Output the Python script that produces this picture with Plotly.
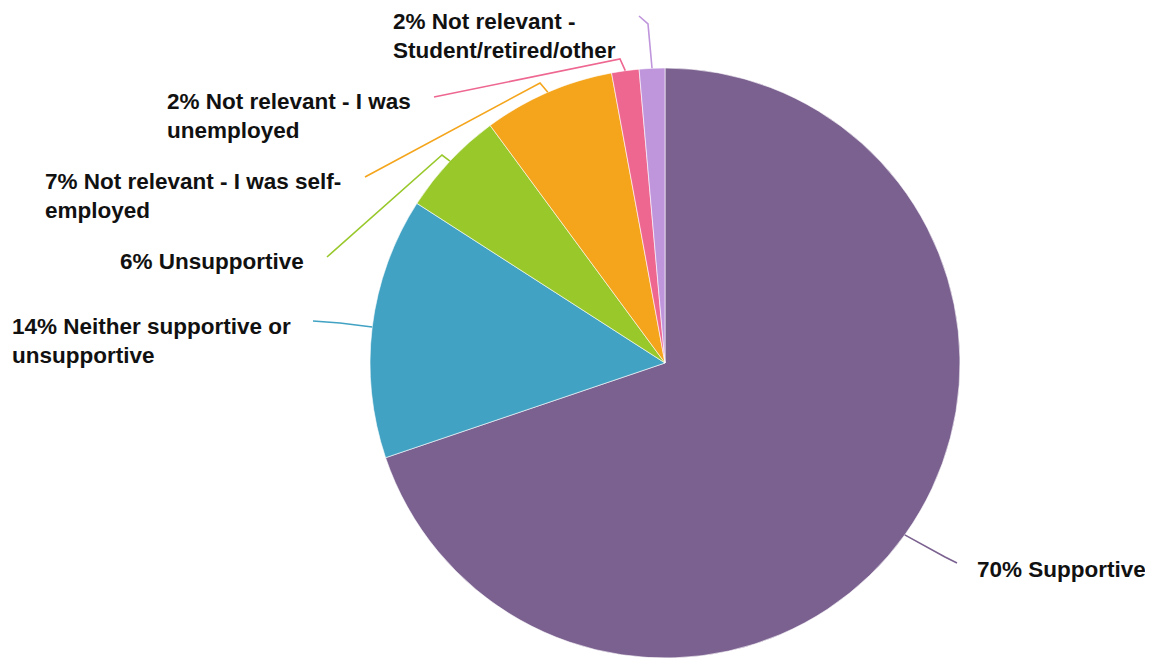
import math
import plotly.graph_objects as go

# ---- data ----
categories = [
    "Supportive",
    "Neither supportive or unsupportive",
    "Unsupportive",
    "Not relevant - I was self-employed",
    "Not relevant - I was unemployed",
    "Not relevant - Student/retired/other",
]
values = [69.8, 14.3, 5.8, 7.2, 1.5, 1.4]
label_texts = [
    "70% Supportive",
    "14% Neither supportive or<br>unsupportive",
    "6% Unsupportive",
    "7% Not relevant - I was self-<br>employed",
    "2% Not relevant - I was<br>unemployed",
    "2% Not relevant -<br>Student/retired/other",
]
colors = ["#7B6190", "#41A2C3", "#98C82A", "#F4A51C", "#EE6791", "#BF95DC"]

# ---- layout constants (screen pixels) ----
W, H = 1153, 660
OFF = 8  # page body margin
CX, CY, R = 665, 363, 295
# label block anchors (left x, middle y)
label_pos = [(975, 569), (10, 341), (118, 262), (43, 196), (165, 116), (391, 36)]
# leader line: elbow point and end point
leader_pts = [
    [(945, 557), (957, 563)],
    [(340, 323), (313, 321)],
    [(442, 155), (327, 257)],
    [(540, 83), (365, 177)],
    [(620, 59), (434, 97)],
    [(648, 24), (639, 16)],
]


def to_paper(x, y):
    return (x - OFF) / W, 1 - (y - OFF) / H


fig = go.Figure(
    go.Pie(
        labels=categories,
        values=values,
        sort=False,
        direction="clockwise",
        rotation=0,
        marker=dict(colors=colors, line=dict(color="white", width=0.6)),
        textinfo="none",
        hoverinfo="label+percent",
        domain=dict(
            x=[(CX - OFF - R) / W, (CX - OFF + R) / W],
            y=[1 - (CY - OFF + R) / H, 1 - (CY - OFF - R) / H],
        ),
        showlegend=False,
    )
)

total = sum(values)
cum = 0.0
shapes = []
annotations = []
for i, v in enumerate(values):
    mid = (cum + v / 2) / total * 2 * math.pi
    cum += v
    sx = CX + R * math.sin(mid)
    sy = CY - R * math.cos(mid)
    (ex1, ey1), (ex2, ey2) = leader_pts[i]
    p0 = to_paper(sx, sy)
    p1 = to_paper(ex1, ey1)
    p2 = to_paper(ex2, ey2)
    path = f"M {p0[0]},{p0[1]} L {p1[0]},{p1[1]} L {p2[0]},{p2[1]}"
    shapes.append(
        dict(type="path", xref="paper", yref="paper", path=path,
             line=dict(color=colors[i], width=1.6))
    )
    lx, ly = to_paper(*label_pos[i])
    annotations.append(
        dict(x=lx, y=ly, xref="paper", yref="paper", xanchor="left", yanchor="middle",
             align="left", showarrow=False, text=f"<b>{label_texts[i]}</b>",
             font=dict(family="Liberation Sans, Arial, sans-serif", size=22.5, color="#111111"))
    )

fig.update_layout(
    width=W,
    height=H,
    margin=dict(l=0, r=0, t=0, b=0),
    paper_bgcolor="white",
    plot_bgcolor="white",
    shapes=shapes,
    annotations=annotations,
)

fig.write_html("out.html")
